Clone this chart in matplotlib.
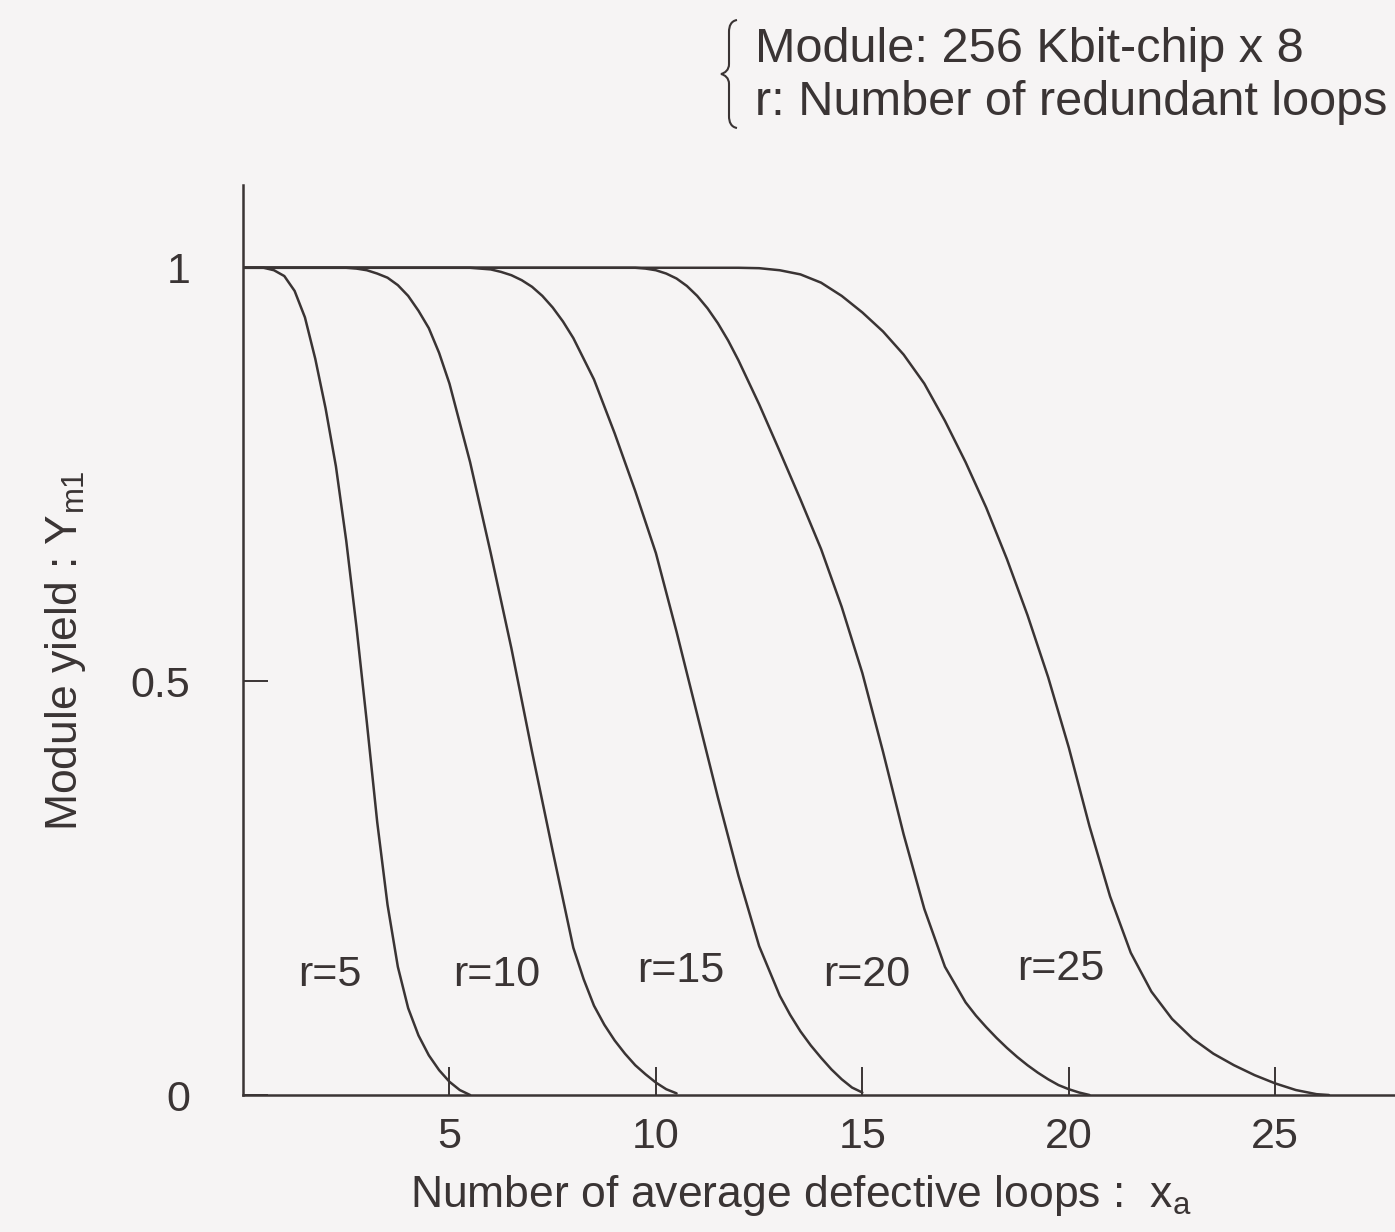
import matplotlib.pyplot as plt
from matplotlib.path import Path
from matplotlib.patches import PathPatch

plt.rcParams['font.family'] = ['Liberation Sans', 'DejaVu Sans']
plt.rcParams['mathtext.default'] = 'regular'

INK = '#3a3434'
PAPER = '#f6f4f4'
W, H = 1395, 1232

# curves: x = average defective loops, y = module yield
x_r5 = [0, 0.5, 0.75, 1.0, 1.25, 1.5, 1.75, 2.0, 2.25, 2.5, 2.75, 3.0, 3.25, 3.5, 3.75,
        4.0, 4.25, 4.5, 4.75, 5.0, 5.25, 5.5]
y_r5 = [1, 1, 0.997, 0.99, 0.972, 0.94, 0.89, 0.83, 0.76, 0.67, 0.565, 0.45, 0.33, 0.23, 0.155,
        0.105, 0.072, 0.048, 0.03, 0.016, 0.006, 0]

x_r10 = [0, 2.5, 2.75, 3.0, 3.25, 3.5, 3.75, 4.0, 4.25, 4.5, 4.75, 5.0, 5.5, 6.0, 6.5, 7.0,
         7.5, 8.0, 8.25, 8.5, 8.75, 9.0, 9.25, 9.5, 9.75, 10.0, 10.25, 10.5]
y_r10 = [1, 1, 0.999, 0.997, 0.993, 0.988, 0.979, 0.966, 0.948, 0.927, 0.897, 0.86, 0.765, 0.655, 0.54, 0.415,
         0.295, 0.178, 0.14, 0.108, 0.085, 0.066, 0.05, 0.036, 0.025, 0.015, 0.007, 0.002]

x_r15 = [0, 5.5, 5.75, 6.0, 6.25, 6.5, 6.75, 7.0, 7.25, 7.5, 7.75, 8.0, 8.5, 9.0, 9.5, 10.0,
         10.5, 11.0, 11.5, 12.0, 12.5, 13.0, 13.25, 13.5, 13.75, 14.0, 14.25, 14.5, 14.75, 15.0]
y_r15 = [1, 1, 0.999, 0.998, 0.995, 0.991, 0.985, 0.977, 0.966, 0.952, 0.935, 0.915, 0.865, 0.8, 0.73, 0.655,
         0.56, 0.46, 0.36, 0.265, 0.18, 0.12, 0.097, 0.077, 0.06, 0.045, 0.031, 0.019, 0.009, 0.003]

x_r20 = [0, 9.5, 9.75, 10.0, 10.25, 10.5, 10.75, 11.0, 11.25, 11.5, 11.75, 12.0, 12.5, 13.0, 13.5, 14.0,
         14.5, 15.0, 15.5, 16.0, 16.5, 17.0, 17.5, 17.75, 18.0, 18.25, 18.5, 18.75, 19.0, 19.25,
         19.5, 19.75, 20.0, 20.25, 20.5]
y_r20 = [1, 1, 0.999, 0.997, 0.993, 0.987, 0.978, 0.966, 0.951, 0.933, 0.912, 0.888, 0.835, 0.778, 0.72, 0.66,
         0.59, 0.51, 0.415, 0.315, 0.225, 0.155, 0.112, 0.096, 0.082, 0.069, 0.057, 0.046, 0.036, 0.027,
         0.019, 0.012, 0.007, 0.003, 0]

x_r25 = [0, 12.0, 12.5, 13.0, 13.5, 14.0, 14.5, 15.0, 15.5, 16.0, 16.5, 17.0, 17.5, 18.0, 18.5,
         19.0, 19.5, 20.0, 20.5, 21.0, 21.5, 22.0, 22.5, 23.0, 23.5, 24.0, 24.5, 25.0, 25.5, 26.0, 26.3]
y_r25 = [1, 1, 0.9995, 0.997, 0.992, 0.982, 0.966, 0.946, 0.923, 0.895, 0.86, 0.815, 0.765, 0.71, 0.648,
         0.58, 0.505, 0.42, 0.325, 0.24, 0.172, 0.125, 0.092, 0.068, 0.05, 0.036, 0.024, 0.014, 0.006, 0.001, 0]

curve_labels = ['r=5', 'r=10', 'r=15', 'r=20', 'r=25']
label_x = [2.1, 6.15, 10.6, 15.1, 19.8]
label_y = [0.145, 0.145, 0.15, 0.145, 0.152]

x_ticks = [5, 10, 15, 20, 25]
y_ticks = [0, 0.5, 1]
y_tick_labels = ['0', '0.5', '1']


def px(x, y):
  # pixel position -> figure fraction
  return (x / W, 1 - y / H)


fig = plt.figure(figsize=(W / 100, H / 100), dpi=100, facecolor=PAPER)
ax = fig.add_axes([0.1742, 0.1112, 0.8258, 0.7386])
ax.set_facecolor(PAPER)

curves = [(x_r5, y_r5), (x_r10, y_r10), (x_r15, y_r15), (x_r20, y_r20), (x_r25, y_r25)]
for xs, ys in curves:
  ax.plot(xs, ys, color=INK, linewidth=1.8, solid_capstyle='round', solid_joinstyle='round')

for txt, lx, ly in zip(curve_labels, label_x, label_y):
  ax.text(lx, ly, txt, fontsize=31, color=INK, ha='center', va='center')

ax.set_xlim(0, 27.9)
ax.set_ylim(0, 1.1)

for side in ['top', 'right']:
  ax.spines[side].set_visible(False)
for side in ['left', 'bottom']:
  ax.spines[side].set_color(INK)
  ax.spines[side].set_linewidth(1.8)

ax.set_xticks(x_ticks)
ax.set_xticklabels([str(t) for t in x_ticks])
ax.set_yticks(y_ticks)
ax.set_yticklabels(y_tick_labels)
ax.tick_params(axis='x', direction='in', length=20, width=1.4, color=INK,
               labelsize=31, labelcolor=INK, pad=16)
ax.tick_params(axis='y', direction='in', length=18, width=1.4, color=INK,
               labelsize=31, labelcolor=INK, pad=38)

fig.text(0.574, 0.030, r'Number of average defective loops :  x$_{a}$',
         fontsize=32, color=INK, ha='center', va='center')
fig.text(0.047, 0.472, r'Module yield : Y$_{m1}$', rotation=90,
         fontsize=32, color=INK, ha='center', va='center')

# brace in front of the note
brace_pts = [(737, 20), (731, 21), (729, 26), (729, 32), (729, 64),
             (729, 70), (725, 73), (721, 74),
             (725, 75), (729, 78), (729, 84), (729, 116),
             (729, 122), (731, 127), (737, 128)]
brace_codes = [Path.MOVETO, Path.CURVE4, Path.CURVE4, Path.CURVE4, Path.LINETO,
               Path.CURVE4, Path.CURVE4, Path.CURVE4,
               Path.CURVE4, Path.CURVE4, Path.CURVE4, Path.LINETO,
               Path.CURVE4, Path.CURVE4, Path.CURVE4]
brace = PathPatch(Path([px(*p) for p in brace_pts], brace_codes), fill=False,
                  edgecolor=INK, linewidth=1.5, transform=fig.transFigure)
fig.patches.append(brace)

fig.text(0.541, 0.960, 'Module: 256 Kbit-chip x 8', fontsize=35, color=INK,
         ha='left', va='center')
fig.text(0.541, 0.917, 'r: Number of redundant loops', fontsize=35, color=INK,
         ha='left', va='center')

fig.savefig('out.png', dpi=100, facecolor=PAPER)
